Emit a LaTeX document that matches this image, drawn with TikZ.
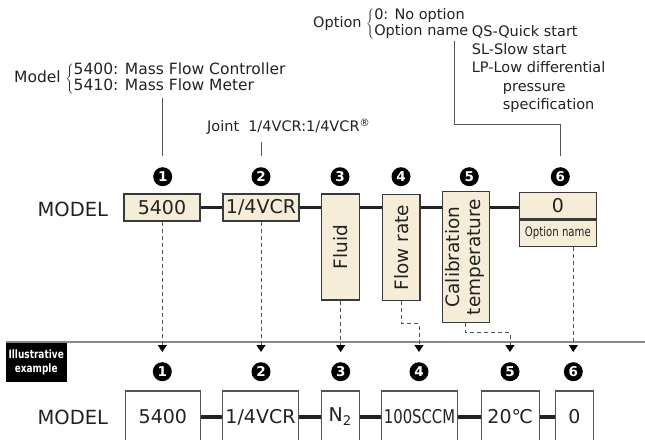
\documentclass[tikz,border=0pt]{standalone}
\usepackage{fontspec}
\usepackage{graphicx}
\setmainfont{DejaVu Sans}
\newfontfamily\narrowfont[FakeStretch=0.78]{DejaVu Sans}
\usetikzlibrary{arrows.meta,positioning,calc}
\definecolor{cream}{HTML}{F6EDD9}
\definecolor{boxline}{HTML}{3A3A3A}
\definecolor{leadgray}{HTML}{555555}
\definecolor{rulegray}{HTML}{8A8A8A}
\definecolor{ink}{HTML}{222222}
\newcommand{\fsz}[2]{\fontsize{#1}{#2}\selectfont}

\begin{document}
\begin{tikzpicture}[x=1pt, y=-1pt,
 box/.style={draw=boxline, line width=1.1pt, fill=cream, text=ink, inner sep=0pt,
 font=\fsz{19}{21}},
 vbox/.style={box, font=\fsz{18.5}{20.5}},
 ebox/.style={draw=leadgray, line width=1.1pt, fill=white, text=ink, inner sep=0pt,
 minimum height=52pt, font=\fsz{19}{21}},
 num/.style={circle, fill=black, text=white, inner sep=0pt, minimum size=19pt,
 font=\bfseries\fsz{13.5}{13.5}},
 lbl/.style={inner sep=0pt, text=ink, font=\fsz{14.5}{16}},
 link/.style={line width=3.2pt, ink},
 lead/.style={line width=0.9pt, leadgray},
 ar/.style={leadgray, line width=0.9pt, dash pattern=on 4pt off 3pt,
 -{Triangle[width=9pt,length=7pt,color=black]}, shorten >=10pt},
]
 \useasboundingbox (0,0) rectangle (645,439);
 \clip (0,0) rectangle (645,439);

 % keys above the code
 \node[lbl, anchor=west, font=\fsz{15.5}{15.7}] (mkey) at (14,79)
 {Model $\left\{\begin{tabular}{@{}l@{}}5400: Mass Flow Controller\\5410: Mass Flow Meter\end{tabular}\right.$};
 \node[lbl, anchor=base west] (jkey) at (207,131.7) {Joint\hspace{9pt}1/4VCR:1/4VCR\textsuperscript{®}};
 \node[lbl, anchor=west, font=\fsz{14.5}{14}] (okey) at (313,24)
 {Option $\left\{\begin{tabular}{@{}l@{}}0: No option\\Option name\end{tabular}\right.$};
 \node[lbl, anchor=north west, align=left, font=\fsz{14.5}{18.3}] (olist) at (471.7,25)
 {QS-Quick start\\SL-Slow start\\LP-Low differential\\\hspace*{31pt}pressure\\\hspace*{31pt}specification};

 % code row
 \node[text=ink, font=\fsz{19.5}{21}] (mtop) at (72.8,209) {MODEL};
 \node[box, minimum width=76pt, minimum height=27pt] (mdl) at (162,207.5) {5400};
 \node[box, minimum width=76pt, minimum height=27pt] (jnt) at (261,207.5) {1/4VCR};
 \node[vbox, minimum width=37.6pt, minimum height=106pt] (fld) at (340.5,247) {\rotatebox{90}{Fluid}};
 \node[vbox, minimum width=37.3pt, minimum height=106pt] (flw) at (401.3,247.7) {\rotatebox{90}{Flow rate}};
 \node[vbox, minimum width=47.3pt, minimum height=131.4pt] (cal) at (465.7,257)
 {\rotatebox{90}{\begin{tabular}{@{}c@{}}Calibration\\temperature\end{tabular}}};
 \node[box, minimum width=76.3pt, minimum height=26.7pt] (optA) at (557.9,205.65) {0};
 \node[box, minimum width=76.3pt, minimum height=26.3pt, font=\narrowfont\fsz{13}{14},
 below=0pt of optA] (optB) {Option name};

 \node[num] (n1) at (162.7,176.7) {1};
 \node[num] (n2) at (261,176.7) {2};
 \node[num] (n3) at (340,176.7) {3};
 \node[num] (n4) at (401,176.7) {4};
 \node[num] (n5) at (469.3,176.7) {5};
 \node[num] (n6) at (560.3,176.7) {6};

 \draw[link] (mdl) -- (jnt);
 \draw[link] (jnt.east) -- (jnt.east -| fld.west);
 \draw[link] (fld.east |- jnt.east) -- (flw.west |- jnt.east);
 \draw[link] (flw.east |- jnt.east) -- (cal.west |- jnt.east);
 \draw[link] (cal.east |- jnt.east) -- (optA.west |- jnt.east);

 \draw[lead, shorten <=2pt] (mkey.south -| n1) -- ([yshift=11pt]n1.north);
 \draw[lead, shorten <=7pt] (jkey.south -| n2) -- ([yshift=11pt]n2.north);
 \draw[lead] ([xshift=-15.3pt,yshift=-2pt]okey.south east) |- ($(n6.north)+(0,-43)$)
 -- ([yshift=11pt]n6.north);

 % example row
 \node[fill=black, text=white, minimum width=61pt, minimum height=39.4pt, inner sep=0pt,
 align=center, font=\narrowfont\bfseries\fsz{11.5}{14}] (illus) at (36.2,362) {Illustrative\\example};
 \draw[rulegray, line width=1.3pt] (illus.north west) -- ++(640,0);

 \node[num] (e1) at (162.3,371.7) {1};
 \node[num] (e2) at (261,371.7) {2};
 \node[num] (e3) at (340.7,371.7) {3};
 \node[num] (e4) at (419,371.7) {4};
 \node[num] (e5) at (510,371.7) {5};
 \node[num] (e6) at (573.3,371.7) {6};

 \node[text=ink, font=\fsz{19.5}{21}] (mbot) at (72.8,417) {MODEL};
 \node[ebox, minimum width=75.7pt] (b1) at (162.9,417) {5400};
 \node[ebox, minimum width=75.6pt] (b2) at (260.5,417) {1/4VCR};
 \node[ebox, minimum width=38.3pt] (b3) at (340.2,417) {N\textsubscript{2}};
 \node[ebox, minimum width=75.6pt, font=\narrowfont\fsz{19}{21}] (b4) at (419.5,417) {100SCCM};
 \node[ebox, minimum width=58.3pt] (b5) at (510.2,417) {20℃};
 \node[ebox, minimum width=38pt] (b6) at (574.3,417) {0};

 \draw[link] (b1) -- (b2);
 \draw[link] (b2) -- (b3);
 \draw[link] (b3) -- (b4);
 \draw[link] (b4) -- (b5);
 \draw[link] (b5) -- (b6);

 \draw[ar] (mdl.south -| e1) -- (e1.north);
 \draw[ar] (jnt.south -| e2) -- (e2.north);
 \draw[ar] (fld.south -| e3) -- (e3.north);
 \draw[ar] (flw.south) -- ++(0,22) -| (e4.north);
 \draw[ar] (cal.south) -- ++(0,9.6) -| (e5.north);
 \draw[ar] (optB.south -| e6) -- (e6.north);
\end{tikzpicture}
\end{document}
